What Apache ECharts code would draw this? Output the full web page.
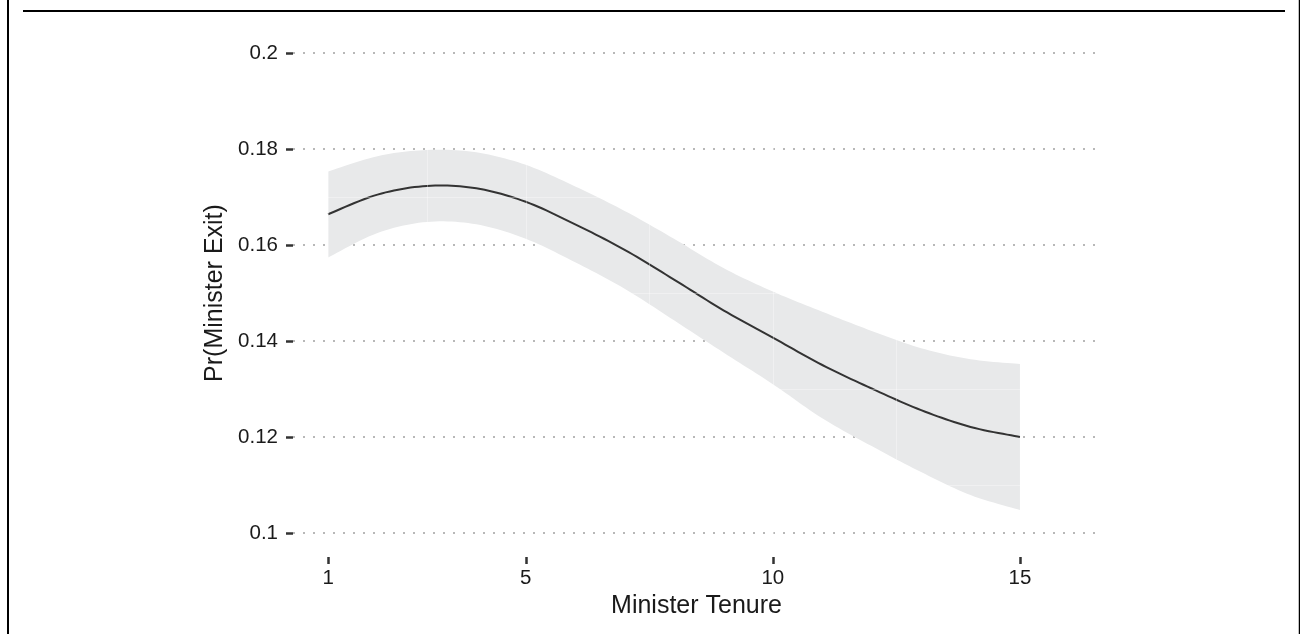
<!DOCTYPE html>
<html>
<head>
<meta charset="utf-8">
<script src="https://cdn.jsdelivr.net/npm/echarts@6/dist/echarts.min.js"></script>
<style>
html,body{margin:0;padding:0;background:#fff;}
#chart{width:1300px;height:634px;}
</style>
</head>
<body>
<div id="chart"></div>
<script>
// Data
const tenure = [1, 2, 3, 4, 5, 6, 7, 8, 9, 10, 11, 12, 13, 14, 15];
const prExit = [0.1664, 0.1705, 0.1723, 0.1718, 0.1690, 0.1643, 0.1590, 0.1528, 0.1464, 0.1407, 0.1350, 0.1301, 0.1256, 0.1221, 0.1200];
const upperCI = [0.1753, 0.1785, 0.1798, 0.1793, 0.1767, 0.1722, 0.1671, 0.1613, 0.1552, 0.1503, 0.1461, 0.1421, 0.1385, 0.1362, 0.1352];
const lowerCI = [0.1574, 0.1625, 0.1648, 0.1643, 0.1613, 0.1564, 0.1509, 0.1443, 0.1376, 0.1310, 0.1239, 0.1181, 0.1127, 0.1079, 0.1048];
const xTicks = [1, 5, 10, 15];
const yTicks = [0.1, 0.12, 0.14, 0.16, 0.18, 0.2];
const xMinor = [3, 7.5, 12.5];
const yMinor = [0.11, 0.13, 0.15, 0.17, 0.19];

const chart = echarts.init(document.getElementById('chart'));

const lineData = tenure.map((t, i) => [t, prExit[i]]);
const bandData = tenure.map((t, i) => [t, lowerCI[i], upperCI[i]]);

// Catmull-Rom resampling of projected pixel points (drawing only)
function smoothPts(pts, steps) {
  const out = [];
  for (let i = 0; i < pts.length - 1; i++) {
    const p0 = pts[Math.max(0, i - 1)], p1 = pts[i], p2 = pts[i + 1], p3 = pts[Math.min(pts.length - 1, i + 2)];
    for (let s = 0; s < steps; s++) {
      const t = s / steps, t2 = t * t, t3 = t2 * t;
      const f = (a, b, c, d) => 0.5 * ((2 * b) + (-a + c) * t + (2 * a - 5 * b + 4 * c - d) * t2 + (-a + 3 * b - 3 * c + d) * t3);
      out.push([f(p0[0], p1[0], p2[0], p3[0]), f(p0[1], p1[1], p2[1], p3[1])]);
    }
  }
  out.push(pts[pts.length - 1]);
  return out;
}

const faint = { color: 'rgba(255,255,255,0.35)', width: 1, type: 'solid' };
const font = 'Liberation Sans';

const option = {
  animation: false,
  backgroundColor: '#ffffff',
  grid: { left: 293, right: 200, top: 29, bottom: 77, containLabel: false },
  xAxis: {
    type: 'value',
    min: 0.29,
    max: 16.62,
    name: 'Minister Tenure',
    nameLocation: 'middle',
    nameGap: 33,
    nameTextStyle: { fontFamily: font, fontSize: 25, color: '#1a1a1a' },
    axisLine: { show: false },
    axisTick: {
      show: true, length: 7, inside: false,
      customValues: xTicks,
      lineStyle: { color: '#333333', width: 2.5 }
    },
    axisLabel: {
      customValues: xTicks,
      fontFamily: font, fontSize: 20.5, color: '#1a1a1a', margin: 11
    },
    splitLine: { show: false }
  },
  yAxis: {
    type: 'value',
    min: 0.095,
    max: 0.205,
    name: 'Pr(Minister Exit)',
    nameLocation: 'middle',
    nameGap: 64,
    nameRotate: 90,
    nameTextStyle: { fontFamily: font, fontSize: 25, color: '#1a1a1a' },
    axisLine: { show: false },
    axisTick: {
      show: true, length: 7,
      customValues: yTicks,
      lineStyle: { color: '#333333', width: 2.5 }
    },
    axisLabel: {
      customValues: yTicks,
      fontFamily: font, fontSize: 20.5, color: '#1a1a1a', margin: 15,
      formatter: v => String(parseFloat(v.toFixed(3)))
    },
    splitLine: {
      show: true,
      customValues: yTicks,
      lineStyle: { color: '#b8b8b8', width: 2, type: [2, 8] }
    }
  },
  series: [
    {
      type: 'custom',
      name: 'CI',
      data: bandData,
      renderItem: function (params, api) {
        if (params.dataIndex !== 0) return null;
        const upper = smoothPts(bandData.map(d => api.coord([d[0], d[2]])), 12);
        const lower = smoothPts(bandData.map(d => api.coord([d[0], d[1]])), 12).reverse();
        return {
          type: 'polygon',
          shape: { points: upper.concat(lower) },
          style: { fill: '#e8e9ea', stroke: null }
        };
      },
      encode: { x: 0, y: [1, 2] },
      z: 1,
      silent: true
    },
    {
      type: 'line',
      name: 'minor',
      data: [],
      silent: true,
      z: 2,
      markLine: {
        silent: true,
        symbol: 'none',
        label: { show: false },
        lineStyle: faint,
        data: xMinor.concat(xTicks).map(v => ({ xAxis: v }))
          .concat(yMinor.map(v => ({ yAxis: v })))
      }
    },
    {
      type: 'custom',
      name: 'Pr',
      data: lineData,
      renderItem: function (params, api) {
        if (params.dataIndex !== 0) return null;
        const pts = smoothPts(lineData.map(d => api.coord(d)), 12);
        return {
          type: 'polyline',
          shape: { points: pts },
          style: { stroke: '#333333', lineWidth: 2, fill: null }
        };
      },
      encode: { x: 0, y: 1 },
      z: 3,
      silent: true
    }
  ],
  graphic: [
    { type: 'line', shape: { x1: 23, y1: 11, x2: 1285, y2: 11 }, style: { stroke: '#000', lineWidth: 2 } },
    { type: 'line', shape: { x1: 8, y1: 0, x2: 8, y2: 634 }, style: { stroke: '#000', lineWidth: 2 } },
    { type: 'line', shape: { x1: 1299.5, y1: 0, x2: 1299.5, y2: 634 }, style: { stroke: '#000', lineWidth: 1.5 } }
  ]
};

chart.setOption(option);
</script>
</body>
</html>
